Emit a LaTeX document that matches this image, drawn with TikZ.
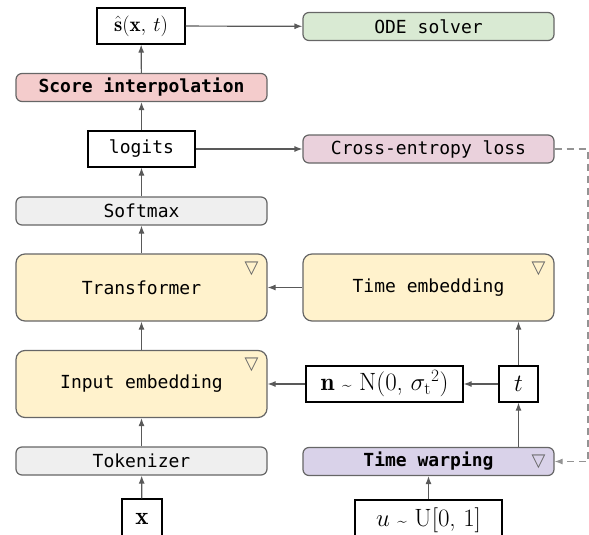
\documentclass[tikz,border=0pt]{standalone}
\usepackage{fontspec}
\setmonofont{DejaVu Sans Mono}
\newfontfamily\symfont{DejaVu Sans}
\usetikzlibrary{arrows.meta}
\definecolor{boxline}{rgb}{0.40, 0.40, 0.40}
\definecolor{arrowgrey}{rgb}{0.35, 0.35, 0.35}
\definecolor{fillgrey}{rgb}{0.937, 0.937, 0.937}
\definecolor{fillyellow}{rgb}{1.0, 0.949, 0.800}
\definecolor{fillred}{rgb}{0.957, 0.800, 0.800}
\definecolor{fillgreen}{rgb}{0.851, 0.918, 0.827}
\definecolor{fillpink}{rgb}{0.918, 0.820, 0.863}
\definecolor{fillpurple}{rgb}{0.851, 0.824, 0.914}
\newcommand{\smalltilde}{{\fontsize{17}{17}\selectfont\textasciitilde}}
\tikzset{block/.style={draw=boxline, line width=1.2pt, rounded corners=6pt, minimum width=251pt, inner sep=0pt, font=\fontsize{18}{20}\selectfont\ttfamily}}
\tikzset{flat/.style={block, minimum height=28pt}}
\tikzset{tall/.style={block, minimum height=67pt, rounded corners=9pt}}
\tikzset{var/.style={draw=black, line width=1.2pt, fill=white, minimum height=36pt, inner sep=0pt, font=\fontsize{22}{24}\selectfont}}
\tikzset{tri/.style={text=boxline, inner sep=0pt, font=\fontsize{18}{18}\selectfont\symfont}}
\tikzset{edge/.style={draw=arrowgrey, line width=1.2pt, -{Latex[length=8pt, width=6pt]}}}
\tikzset{ledge/.style={edge, draw=arrowgrey!65, dash pattern=on 7pt off 5pt}}

\begin{document}
\begin{tikzpicture}[x=1pt, y=-1pt]
        \useasboundingbox (0,0) rectangle (589,535);

        % left column
        \node[var, minimum width=88pt, font=\fontsize{21}{23}\selectfont] (shat) at (141, 26) {$\hat{\mathbf{s}}(\mathbf{x},\, t)$};
        \node[flat, fill=fillred, font=\fontsize{18}{20}\selectfont\ttfamily\bfseries] (score) at (141.5, 87.5) {Score interpolation};
        \node[var, minimum width=107pt, font=\fontsize{18}{20}\selectfont\ttfamily] (logits) at (141.5, 149) {logits};
        \node[flat, fill=fillgrey] (softmax) at (141.5, 211) {Softmax};
        \node[tall, fill=fillyellow] (trans) at (141.5, 287.5) {Transformer};
        \node[tall, fill=fillyellow] (inemb) at (141.5, 384) {Input embedding};
        \node[flat, fill=fillgrey] (tok) at (141.5, 461) {Tokenizer};
        \node[var, minimum width=40pt, minimum height=40pt, font=\fontsize{25}{27}\selectfont] (xvar) at (142, 519) {$\mathbf{x}$};

        % right column
        \node[flat, fill=fillgreen] (ode) at (428.5, 26.5) {ODE solver};
        \node[flat, fill=fillpink] (ce) at (428.5, 149) {Cross-entropy loss};
        \node[tall, fill=fillyellow] (temb) at (428.5, 287.5) {Time embedding};
        \node[var, minimum width=157pt, font=\fontsize{25}{27}\selectfont] (noise) at (384.5, 384) {$\mathbf{n}$ \smalltilde{} N(0, $\sigma_{\mathrm{t}}{}^{2}$)};
        \node[var, minimum width=39pt, font=\fontsize{24}{26}\selectfont] (tvar) at (518.5, 384) {$t$};
        \node[flat, fill=fillpurple, font=\fontsize{18}{20}\selectfont\ttfamily\bfseries] (warp) at (428.5, 461.5) {Time warping};
        \node[var, minimum width=147pt, minimum height=40pt, font=\fontsize{25}{27}\selectfont] (uvar) at (428.5, 520) {$u$ \smalltilde{} U[0, 1]};

        % trainable markers
        \node[tri] (mtrans) at ([xshift=-16pt, yshift=-15pt]trans.north east) {▽};
        \node[tri] (minemb) at ([xshift=-16pt, yshift=-15pt]inemb.north east) {▽};
        \node[tri] (mtemb) at ([xshift=-16pt, yshift=-15pt]temb.north east) {▽};
        \node[tri] (mwarp) at ([xshift=-16pt]warp.east) {▽};

        \draw [edge] (xvar) -- (tok);
        \draw [edge] (tok) -- (inemb);
        \draw [edge] (inemb) -- (trans);
        \draw [edge] (trans) -- (softmax);
        \draw [edge] (softmax) -- (logits);
        \draw [edge] (logits) -- (score);
        \draw [edge] (score) -- (shat);
        \draw [edge] (shat) -- (ode);
        \draw [edge] (logits) -- (ce);
        \draw [edge] (uvar) -- (warp);
        \draw [edge] (warp.north -| tvar) -- (tvar);
        \draw [edge] (tvar) -- (temb.south -| tvar);
        \draw [edge] (tvar) -- (noise);
        \draw [edge] (noise) -- (inemb);
        \draw [edge] (temb) -- (trans);

        \coordinate (loop) at (588, 149);
        \draw [ledge] (ce) -- (loop) |- (warp);
    \end{tikzpicture}
\end{document}
